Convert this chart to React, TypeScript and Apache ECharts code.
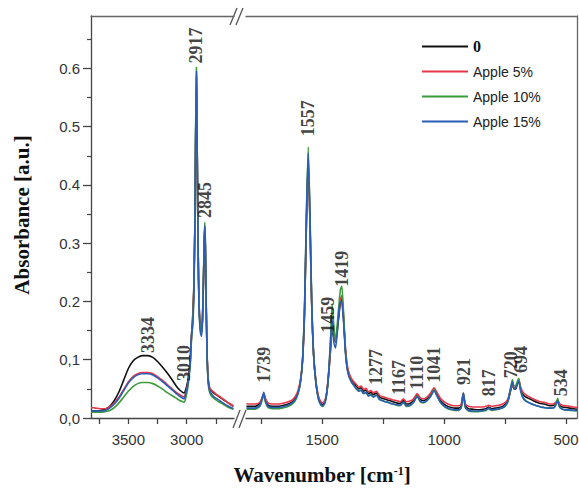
import React, { useEffect, useRef } from 'react';
import * as echarts from 'echarts';

const seriesNames = ['0', 'Apple 5%', 'Apple 10%', 'Apple 15%'];
const seriesColors = ['#111111', '#e8374a', '#3c9c3c', '#2a5db5'];

const yTickLabels = ['0,0', '0,1', '0.2', '0.3', '0.4', '0.5', '0.6'];
const yTickValues = [0, 0.1, 0.2, 0.3, 0.4, 0.5, 0.6];
const xTicksLeft = [3750, 3500, 3250, 3000, 2750];
const xLabelsLeft = [3500, 3000];
const xTicksRight = [1750, 1500, 1250, 1000, 750, 500];
const xLabelsRight = [1500, 1000, 500];

// Left segment (high wavenumber)
const wnL = [
  3820, 3780, 3740, 3700, 3660, 3620, 3580, 3540, 3500, 3460,
  3420, 3380, 3334, 3290, 3250, 3210, 3170, 3130, 3090, 3060,
  3035, 3020, 3010, 3000, 2990, 2980, 2970, 2960, 2950, 2940,
  2930, 2924, 2917, 2910, 2903, 2895, 2885, 2875, 2865, 2855,
  2850, 2845, 2840, 2832, 2824, 2815, 2805, 2790, 2770, 2750,
  2720, 2690, 2660, 2630, 2600,
];
const blackL = [
  0.012, 0.012, 0.013, 0.015, 0.02, 0.03, 0.045, 0.065, 0.085, 0.098,
  0.104, 0.107, 0.107, 0.104, 0.097, 0.088, 0.078, 0.067, 0.055, 0.048,
  0.044, 0.043, 0.048, 0.055, 0.065, 0.08, 0.1, 0.14, 0.17, 0.22,
  0.33, 0.47, 0.585, 0.45, 0.3, 0.2, 0.16, 0.15, 0.17, 0.25,
  0.3, 0.325, 0.29, 0.18, 0.1, 0.065, 0.052, 0.047, 0.043, 0.04,
  0.036, 0.032, 0.028, 0.024, 0.02,
];
const redL = [
  0.018, 0.017, 0.016, 0.016, 0.019, 0.026, 0.036, 0.049, 0.062, 0.071,
  0.076, 0.078, 0.078, 0.076, 0.071, 0.065, 0.058, 0.051, 0.044, 0.04,
  0.037, 0.036, 0.042, 0.05, 0.06, 0.075, 0.095, 0.135, 0.165, 0.215,
  0.33, 0.47, 0.59, 0.45, 0.3, 0.2, 0.16, 0.148, 0.17, 0.25,
  0.3, 0.33, 0.29, 0.18, 0.1, 0.065, 0.053, 0.048, 0.045, 0.041,
  0.037, 0.033, 0.028, 0.024, 0.021,
];
const greenL = [
  0.01, 0.01, 0.01, 0.011, 0.013, 0.018, 0.026, 0.036, 0.046, 0.054,
  0.059, 0.061, 0.061, 0.059, 0.055, 0.05, 0.044, 0.039, 0.034, 0.03,
  0.028, 0.027, 0.033, 0.042, 0.053, 0.07, 0.09, 0.13, 0.16, 0.21,
  0.34, 0.49, 0.602, 0.46, 0.3, 0.195, 0.155, 0.145, 0.17, 0.26,
  0.31, 0.336, 0.3, 0.18, 0.095, 0.058, 0.045, 0.038, 0.034, 0.031,
  0.027, 0.024, 0.02, 0.017, 0.015,
];
const blueL = [
  0.012, 0.012, 0.012, 0.013, 0.017, 0.024, 0.034, 0.047, 0.06, 0.069,
  0.074, 0.076, 0.076, 0.074, 0.069, 0.063, 0.056, 0.049, 0.042, 0.037,
  0.034, 0.033, 0.04, 0.048, 0.058, 0.074, 0.095, 0.14, 0.155, 0.2,
  0.33, 0.48, 0.595, 0.46, 0.3, 0.19, 0.15, 0.14, 0.165, 0.25,
  0.305, 0.33, 0.295, 0.175, 0.095, 0.06, 0.048, 0.042, 0.037, 0.034,
  0.03, 0.026, 0.022, 0.019, 0.016,
];

// Right segment (fingerprint region)
const wnR = [
  1810, 1800, 1775, 1755, 1745, 1739, 1733, 1722, 1705, 1685,
  1665, 1645, 1625, 1610, 1598, 1588, 1580, 1572, 1565, 1557,
  1550, 1543, 1535, 1525, 1515, 1505, 1497, 1488, 1480, 1472,
  1465, 1459, 1452, 1445, 1438, 1430, 1424, 1419, 1412, 1405,
  1398, 1390, 1380, 1370, 1360, 1350, 1340, 1330, 1320, 1310,
  1300, 1290, 1277, 1265, 1255, 1240, 1225, 1210, 1195, 1180,
  1167, 1155, 1140, 1125, 1110, 1098, 1085, 1070, 1055, 1041,
  1028, 1015, 1000, 985, 970, 955, 940, 930, 921, 913,
  900, 880, 860, 840, 828, 817, 805, 790, 775, 760,
  748, 738, 728, 720, 713, 706, 700, 694, 686, 676,
  665, 650, 635, 620, 605, 590, 575, 560, 548, 540,
  534, 527, 515, 500, 485, 470, 455,
];
const blackR = [
  0.02, 0.02, 0.02, 0.025, 0.035, 0.042, 0.032, 0.022, 0.02, 0.02,
  0.021, 0.023, 0.027, 0.034, 0.045, 0.065, 0.1, 0.18, 0.32, 0.44,
  0.34, 0.2, 0.11, 0.06, 0.035, 0.025, 0.023, 0.028, 0.045, 0.08,
  0.12, 0.15, 0.14, 0.13, 0.15, 0.18, 0.2, 0.205, 0.17, 0.12,
  0.09, 0.075, 0.065, 0.06, 0.055, 0.05, 0.052, 0.046, 0.048, 0.042,
  0.044, 0.04, 0.043, 0.036, 0.034, 0.032, 0.03, 0.028, 0.026, 0.025,
  0.03, 0.024, 0.025, 0.03, 0.04, 0.032, 0.03, 0.033, 0.04, 0.05,
  0.04, 0.03, 0.024, 0.02, 0.018, 0.017, 0.017, 0.02, 0.042, 0.022,
  0.016, 0.015, 0.014, 0.015, 0.016, 0.019, 0.016, 0.017, 0.018, 0.02,
  0.024, 0.03, 0.045, 0.058, 0.05, 0.05, 0.058, 0.066, 0.05, 0.04,
  0.036, 0.033, 0.03, 0.027, 0.025, 0.024, 0.022, 0.021, 0.022, 0.026,
  0.03, 0.022, 0.019, 0.018, 0.017, 0.016, 0.015,
];
const redR = [
  0.025, 0.024, 0.024, 0.027, 0.036, 0.042, 0.034, 0.026, 0.024, 0.024,
  0.025, 0.027, 0.03, 0.037, 0.048, 0.068, 0.1, 0.18, 0.32, 0.445,
  0.34, 0.2, 0.11, 0.062, 0.038, 0.028, 0.026, 0.031, 0.048, 0.082,
  0.12, 0.155, 0.145, 0.132, 0.152, 0.185, 0.205, 0.21, 0.175, 0.125,
  0.094, 0.078, 0.068, 0.062, 0.058, 0.053, 0.055, 0.049, 0.051, 0.045,
  0.047, 0.043, 0.046, 0.039, 0.037, 0.035, 0.033, 0.031, 0.03, 0.028,
  0.033, 0.028, 0.029, 0.033, 0.042, 0.035, 0.033, 0.036, 0.043, 0.052,
  0.043, 0.034, 0.028, 0.024, 0.022, 0.021, 0.021, 0.023, 0.043, 0.025,
  0.02, 0.019, 0.019, 0.019, 0.02, 0.022, 0.02, 0.021, 0.022, 0.024,
  0.027, 0.033, 0.047, 0.058, 0.052, 0.053, 0.06, 0.066, 0.053, 0.044,
  0.04, 0.036, 0.033, 0.03, 0.028, 0.027, 0.025, 0.024, 0.025, 0.028,
  0.031, 0.025, 0.022, 0.021, 0.02, 0.019, 0.018,
];
const greenR = [
  0.015, 0.015, 0.015, 0.02, 0.032, 0.04, 0.028, 0.018, 0.016, 0.016,
  0.017, 0.019, 0.023, 0.03, 0.042, 0.063, 0.1, 0.19, 0.34, 0.465,
  0.36, 0.21, 0.11, 0.058, 0.032, 0.022, 0.02, 0.026, 0.045, 0.085,
  0.14, 0.195, 0.16, 0.13, 0.16, 0.2, 0.222, 0.226, 0.18, 0.12,
  0.088, 0.072, 0.062, 0.056, 0.051, 0.046, 0.048, 0.042, 0.044, 0.038,
  0.04, 0.036, 0.04, 0.032, 0.03, 0.028, 0.026, 0.024, 0.022, 0.021,
  0.027, 0.02, 0.021, 0.027, 0.038, 0.028, 0.026, 0.03, 0.038, 0.049,
  0.037, 0.027, 0.02, 0.016, 0.014, 0.013, 0.013, 0.017, 0.042, 0.018,
  0.012, 0.011, 0.011, 0.012, 0.013, 0.016, 0.013, 0.014, 0.015, 0.017,
  0.021, 0.028, 0.048, 0.066, 0.055, 0.056, 0.062, 0.068, 0.048, 0.035,
  0.03, 0.026, 0.023, 0.021, 0.019, 0.018, 0.017, 0.017, 0.019, 0.026,
  0.034, 0.02, 0.015, 0.014, 0.013, 0.013, 0.012,
];
const blueR = [
  0.017, 0.017, 0.017, 0.022, 0.035, 0.044, 0.03, 0.02, 0.018, 0.018,
  0.019, 0.021, 0.025, 0.032, 0.044, 0.065, 0.1, 0.19, 0.335, 0.455,
  0.35, 0.205, 0.11, 0.058, 0.033, 0.023, 0.021, 0.027, 0.046, 0.085,
  0.135, 0.17, 0.13, 0.12, 0.145, 0.19, 0.2, 0.198, 0.165, 0.115,
  0.086, 0.071, 0.062, 0.056, 0.05, 0.046, 0.048, 0.042, 0.044, 0.038,
  0.04, 0.036, 0.039, 0.032, 0.03, 0.028, 0.026, 0.024, 0.023, 0.022,
  0.027, 0.021, 0.022, 0.027, 0.037, 0.029, 0.027, 0.03, 0.037, 0.047,
  0.037, 0.027, 0.021, 0.017, 0.015, 0.014, 0.014, 0.018, 0.043, 0.019,
  0.013, 0.012, 0.012, 0.013, 0.014, 0.017, 0.014, 0.015, 0.016, 0.018,
  0.022, 0.03, 0.05, 0.062, 0.05, 0.052, 0.057, 0.064, 0.046, 0.034,
  0.029, 0.026, 0.023, 0.021, 0.019, 0.018, 0.017, 0.017, 0.018, 0.024,
  0.03, 0.019, 0.015, 0.014, 0.014, 0.013, 0.013,
];

// Peak annotations: text and the [wavenumber, absorbance] where the label starts
const peakLabelsL = [
  { text: '3334', at: [3334, 0.108] },
  { text: '3010', at: [3020, 0.06] },
  { text: '2917', at: [2917, 0.605] },
  { text: '2845', at: [2845, 0.34] },
];
const peakLabelsR = [
  { text: '1739', at: [1739, 0.057] },
  { text: '1557', at: [1557, 0.48] },
  { text: '1459', at: [1476, 0.143] },
  { text: '1419', at: [1419, 0.222] },
  { text: '1277', at: [1277, 0.053] },
  { text: '1167', at: [1186, 0.036] },
  { text: '1110', at: [1110, 0.045] },
  { text: '1041', at: [1043, 0.057] },
  { text: '921', at: [918, 0.053] },
  { text: '817', at: [817, 0.034] },
  { text: '720', at: [727, 0.065] },
  { text: '694', at: [683, 0.074] },
  { text: '534', at: [522, 0.034] },
];

const leftY = [blackL, redL, greenL, blueL];
const rightY = [blackR, redR, greenR, blueR];

const SERIF = '"Liberation Serif", "Times New Roman", serif';
const SANS = '"Liberation Sans", Arial, sans-serif';
const AXIS_COLOR = '#444';

const X_L_MIN = 2595, X_L_MAX = 3820;
const X_R_MIN = 455, X_R_MAX = 1812;
const Y_MAX = 0.69;

function buildOption() {
  const lineSeries: any[] = [];
  seriesNames.forEach((name, k) => {
    lineSeries.push({
      type: 'line', name, xAxisIndex: 0, yAxisIndex: 0,
      data: wnL.map((w, i) => [w, leftY[k][i]]),
      showSymbol: false, symbol: 'none', smooth: 0.2,
      lineStyle: { color: seriesColors[k], width: 1.6 },
      itemStyle: { color: seriesColors[k] },
      z: 2 + k,
    });
    lineSeries.push({
      type: 'line', name, xAxisIndex: 1, yAxisIndex: 1,
      data: wnR.map((w, i) => [w, rightY[k][i]]),
      showSymbol: false, symbol: 'none', smooth: 0.2,
      lineStyle: { color: seriesColors[k], width: 1.6 },
      itemStyle: { color: seriesColors[k] },
      z: 2 + k,
    });
  });

  const labelStyle = {
    show: true,
    position: [0, -2],
    rotate: 90,
    align: 'left',
    verticalAlign: 'middle',
    fontFamily: SERIF,
    fontWeight: 'bold',
    fontSize: 18,
    color: '#111',
    formatter: (p: any) => p.name,
  };
  const labelSeries = [
    {
      type: 'scatter', xAxisIndex: 0, yAxisIndex: 0, symbolSize: 0,
      data: peakLabelsL.map((d) => ({ name: d.text, value: d.at })),
      label: labelStyle, silent: true, z: 10,
    },
    {
      type: 'scatter', xAxisIndex: 1, yAxisIndex: 1, symbolSize: 0,
      data: peakLabelsR.map((d) => ({ name: d.text, value: d.at })),
      label: labelStyle, silent: true, z: 10,
    },
  ];

  const bottomAxis = (gridIndex: number, min: number, max: number, ticks: number[], labels: number[]) => ({
    type: 'value', gridIndex, position: 'bottom', inverse: true, min, max,
    axisLine: { show: true, onZero: false, lineStyle: { color: AXIS_COLOR, width: 1.3 } },
    axisTick: { show: true, length: 6, customValues: ticks, lineStyle: { color: AXIS_COLOR, width: 1.3 } },
    axisLabel: {
      show: true, customValues: labels, margin: 14,
      fontFamily: SANS, fontSize: 15, color: '#333',
      formatter: (v: number) => String(v),
    },
    splitLine: { show: false },
  });
  const topAxis = (gridIndex: number, min: number, max: number) => ({
    type: 'value', gridIndex, position: 'top', inverse: true, min, max,
    axisLine: { show: true, onZero: false, lineStyle: { color: '#666', width: 1.3 } },
    axisTick: { show: false }, axisLabel: { show: false }, splitLine: { show: false },
  });

  return {
    animation: false,
    backgroundColor: '#fff',
    grid: [
      { left: 91, top: 16, width: 143, height: 402, containLabel: false, outerBoundsMode: 'none' },
      { left: 246, top: 16, width: 331, height: 402, containLabel: false, outerBoundsMode: 'none' },
    ],
    xAxis: [
      bottomAxis(0, X_L_MIN, X_L_MAX, xTicksLeft, xLabelsLeft),
      bottomAxis(1, X_R_MIN, X_R_MAX, xTicksRight, xLabelsRight),
      topAxis(0, X_L_MIN, X_L_MAX),
      topAxis(1, X_R_MIN, X_R_MAX),
    ],
    yAxis: [
      {
        type: 'value', gridIndex: 0, min: 0, max: Y_MAX, interval: 0.1,
        axisLine: { show: true, lineStyle: { color: AXIS_COLOR, width: 1.3 } },
        axisTick: { show: true, length: 8, customValues: yTickValues, lineStyle: { color: AXIS_COLOR, width: 1.3 } },
        minorTick: { show: true, splitNumber: 2, length: 4, lineStyle: { color: AXIS_COLOR, width: 1.2 } },
        axisLabel: {
          show: true, customValues: yTickValues, margin: 11,
          fontFamily: SANS, fontSize: 15, color: '#333',
          formatter: (v: number) => {
            const i = yTickValues.findIndex((t) => Math.abs(t - v) < 1e-6);
            return i >= 0 ? yTickLabels[i] : '';
          },
        },
        splitLine: { show: false },
      },
      {
        type: 'value', gridIndex: 1, position: 'right', min: 0, max: Y_MAX,
        axisLine: { show: true, lineStyle: { color: '#666', width: 1.3 } },
        axisTick: { show: false }, axisLabel: { show: false }, splitLine: { show: false },
      },
    ],
    legend: {
      orient: 'vertical', left: 417, top: 33,
      icon: 'rect',
      itemWidth: 46, itemHeight: 2, itemGap: 8,
      textStyle: { fontFamily: SANS, fontSize: 14, color: '#222', lineHeight: 17 },
      data: [
        { name: '0', textStyle: { fontFamily: SERIF, fontWeight: 'bold', fontSize: 16, color: '#111', lineHeight: 17 } },
        { name: 'Apple 5%' },
        { name: 'Apple 10%' },
        { name: 'Apple 15%' },
      ],
      selectedMode: false,
    },
    graphic: [
      {
        type: 'text', x: 22, y: 215, rotation: Math.PI / 2,
        style: {
          text: 'Absorbance [a.u.]', fontFamily: SERIF, fontWeight: 'bold', fontSize: 21,
          fill: '#111', align: 'center', verticalAlign: 'middle',
        },
      },
      {
        type: 'text', x: 322, y: 475,
        style: {
          text: 'Wavenumber [cm{sup|-1}]',
          fontFamily: SERIF, fontWeight: 'bold', fontSize: 21, fill: '#111',
          align: 'center', verticalAlign: 'middle',
          rich: {
            sup: { fontFamily: SERIF, fontWeight: 'bold', fontSize: 12, verticalAlign: 'top', fill: '#111', padding: [0, 0, 8, 0] },
          },
        },
      },
      // axis break marks
      { type: 'line', shape: { x1: 230, y1: 25, x2: 237, y2: 8 }, style: { stroke: '#555', lineWidth: 1.3 } },
      { type: 'line', shape: { x1: 236, y1: 25, x2: 243, y2: 8 }, style: { stroke: '#555', lineWidth: 1.3 } },
      { type: 'line', shape: { x1: 233, y1: 428, x2: 240, y2: 410 }, style: { stroke: '#555', lineWidth: 1.3 } },
      { type: 'line', shape: { x1: 239, y1: 428, x2: 246, y2: 410 }, style: { stroke: '#555', lineWidth: 1.3 } },
    ],
    series: [...lineSeries, ...labelSeries],
  };
}

export default function App() {
  const ref = useRef<HTMLDivElement>(null);
  useEffect(() => {
    if (!ref.current) return;
    const chart = echarts.init(ref.current, null, { renderer: 'svg' });
    chart.setOption(buildOption() as any);
    return () => chart.dispose();
  }, []);
  return (
    <div
      ref={ref}
      style={{ position: 'absolute', left: 0, top: 0, width: 579, height: 493 }}
    />
  );
}
